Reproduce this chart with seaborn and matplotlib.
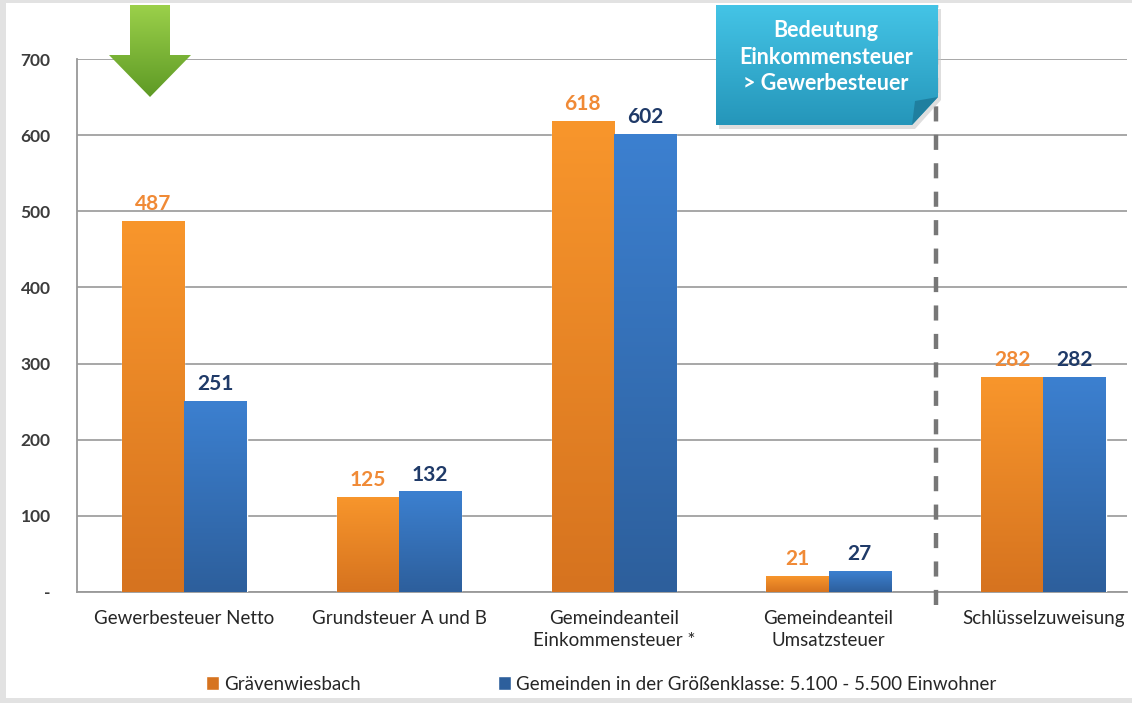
import numpy as np
import pandas as pd
import matplotlib
matplotlib.use("Agg")
import matplotlib.pyplot as plt
from matplotlib.patches import Polygon, Rectangle
from matplotlib.ticker import FixedLocator
import seaborn as sns

# Daten
kategorien = ["Gewerbesteuer Netto", "Grundsteuer A und B",
              "Gemeindeanteil\nEinkommensteuer *", "Gemeindeanteil\nUmsatzsteuer",
              "Schlüsselzuweisung"]
serien = ["Grävenwiesbach", "Gemeinden in der Größenklasse: 5.100 - 5.500 Einwohner"]
werte_graevenwiesbach = [487, 125, 618, 21, 282]
werte_gemeinden = [251, 132, 602, 27, 282]
y_ticks = [0, 100, 200, 300, 400, 500, 600, 700]
y_ticklabels = ["-", "100", "200", "300", "400", "500", "600", "700"]
hinweis = "Bedeutung\nEinkommensteuer\n> Gewerbesteuer"

df = pd.DataFrame({
    "kategorie": kategorien * 2,
    "serie": [serien[0]] * len(kategorien) + [serien[1]] * len(kategorien),
    "wert": werte_graevenwiesbach + werte_gemeinden,
})

sns.set_style("white")
plt.rcParams["font.family"] = ["Lato", "DejaVu Sans"]

farbe_oben = {serien[0]: "#f8962c", serien[1]: "#3c80d0"}
farbe_unten = {serien[0]: "#d6731f", serien[1]: "#2d5f9c"}
label_farbe = {serien[0]: "#f08a36", serien[1]: "#1f3a68"}

W, H = 1132, 703
fig = plt.figure(figsize=(W / 100, H / 100), dpi=100, facecolor="#e2e2e2")
# weisser Hintergrund mit leichtem Rahmen
fig.add_artist(Rectangle((6 / W, 5 / H), 1, 1 - 8 / H, transform=fig.transFigure,
                         facecolor="white", edgecolor="none", zorder=-5))

ax = fig.add_axes([77 / W, 1 - 592 / H, (1127 - 77) / W, (592 - 59) / H])
ax.set_facecolor("none")

sns.barplot(data=df, x="kategorie", y="wert", hue="serie", hue_order=serien,
            palette=[farbe_unten[s] for s in serien], width=0.58, gap=0,
            saturation=1, ax=ax, legend=False, zorder=3)

xlim = (-0.5, 4.39)
ylim = (0, 700)

# Verlauf in den Balken + Werte
n = len(kategorien)
for i, patch in enumerate(ax.patches[:2 * n]):
    s = serien[i // n]
    x0, w, h = patch.get_x(), patch.get_width(), patch.get_height()
    c1 = np.array(matplotlib.colors.to_rgb(farbe_oben[s]))
    c2 = np.array(matplotlib.colors.to_rgb(farbe_unten[s]))
    t = np.linspace(0, 1, 100)[:, None]
    grad = (c1 * (1 - t) + c2 * t)[:, None, :]
    im = ax.imshow(grad, extent=[x0, x0 + w, 0, h], origin="upper",
                   aspect="auto", zorder=3, interpolation="bicubic")
    im.set_clip_path(patch)
    ax.annotate(f"{h:.0f}", (x0 + w / 2, h), xytext=(0, 5), textcoords="offset points",
                ha="center", va="bottom", fontsize=15, fontweight="bold",
                color=label_farbe[s], zorder=5)

ax.set_xlim(*xlim)
ax.set_ylim(*ylim)

# Achsen
ax.set_yticks(y_ticks)
ax.set_yticklabels(y_ticklabels, fontsize=12.5, fontweight="bold", color="#3c3c3c")
ax.yaxis.grid(True, color="#a0a0a0", linewidth=1.3, zorder=0)
ax.set_axisbelow(True)
ax.tick_params(axis="y", length=5, color="#999999", width=1.2, pad=14)
ax.set_xlabel("")
ax.set_ylabel("")
ax.tick_params(axis="x", which="major", length=0, pad=13, labelsize=13.5,
               labelcolor="#262626")
ax.xaxis.set_minor_locator(FixedLocator([-0.5, 0.5, 1.5, 2.5]))
ax.tick_params(axis="x", which="minor", length=6, color="#999999", width=1.2)
for lab in ax.get_xticklabels():
    lab.set_linespacing(1.35)
for sp in ["top", "right"]:
    ax.spines[sp].set_visible(False)
for sp in ["left", "bottom"]:
    ax.spines[sp].set_color("#999999")
    ax.spines[sp].set_linewidth(1.3)

# gestrichelte Trennlinie
ax.plot([3.5, 3.5], [-17, 771], linestyle=(0, (3.4, 3.0)), color="#777777",
        linewidth=3.2, clip_on=False, zorder=6)

# Legende
handles = [Rectangle((0, 0), 1, 1, facecolor=farbe_unten[s]) for s in serien]
fig.legend(handles, serien, loc="center", bbox_to_anchor=(601 / W, 1 - 684 / H),
           ncol=2, frameon=False, fontsize=13.5, handlelength=0.7, handleheight=0.7,
           handletextpad=0.25, columnspacing=7.3, labelcolor="#262626")

# Overlay in Pixelkoordinaten fuer Pfeil und Hinweis
ov = fig.add_axes([0, 0, 1, 1], zorder=10)
ov.set_xlim(0, W)
ov.set_ylim(H, 0)
ov.axis("off")
ov.patch.set_alpha(0)


def verlauf(poly, oben, unten, box):
    ov.add_patch(poly)
    c1 = np.array(matplotlib.colors.to_rgb(oben))
    c2 = np.array(matplotlib.colors.to_rgb(unten))
    t = np.linspace(0, 1, 100)[:, None]
    grad = (c1 * (1 - t) + c2 * t)[:, None, :]
    im = ov.imshow(grad, extent=box, origin="upper", aspect="auto", zorder=11)
    im.set_clip_path(poly)


pfeil = Polygon([(130, 5), (170, 5), (170, 55), (191, 55), (150, 97), (109, 55), (130, 55)],
                closed=True, facecolor="none", edgecolor="none", zorder=11)
verlauf(pfeil, "#9bd04a", "#5e9a25", [109, 191, 97, 5])

# Schatten und Box
ov.add_patch(Polygon([(719, 9), (941, 9), (941, 100), (915, 129), (719, 129)],
                     closed=True, facecolor="#c8c8c8", edgecolor="none", alpha=0.6, zorder=10))
box = Polygon([(716, 5), (938, 5), (938, 97), (912, 125), (716, 125)],
              closed=True, facecolor="none", edgecolor="none", zorder=11)
verlauf(box, "#44c4e6", "#2596ba", [716, 938, 125, 5])
ov.add_patch(Polygon([(938, 97), (912, 125), (915, 101)], closed=True,
                     facecolor="#1f7f9f", edgecolor="none", zorder=12))
ov.set_xlim(0, W)
ov.set_ylim(H, 0)
ov.text(826, 57, hinweis, ha="center", va="center", color="white", fontsize=15.5,
        fontweight="bold", linespacing=1.3, zorder=13)

fig.savefig("out.png", dpi=100)
